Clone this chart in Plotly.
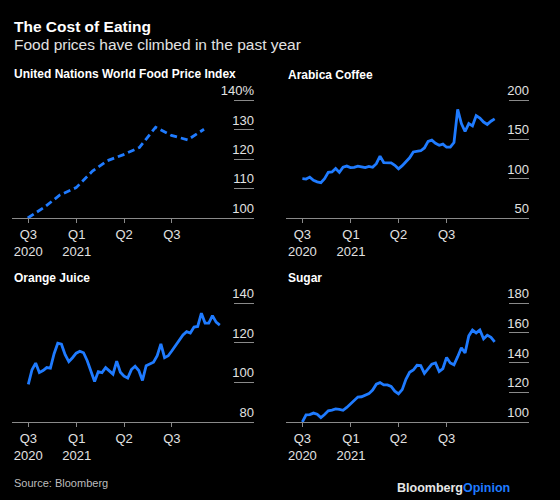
import pandas as pd
import plotly.graph_objects as go

# ---------------- data ----------------
fao_dates = ["2020-09-30", "2020-10-31", "2020-11-30", "2020-12-31", "2021-01-31", "2021-02-28",
             "2021-03-31", "2021-04-30", "2021-05-31", "2021-06-30", "2021-07-31", "2021-08-31"]
fao_values = [100, 103.6, 107.8, 110.3, 115.9, 119.4, 121.5, 123.9, 130.8, 128.0, 126.5, 130.1]

coffee_values = [100, 99.5, 102, 98, 96, 95, 100, 108, 108.5, 113, 108, 114.7, 116, 114, 114.5,
                 116, 115, 114, 115.5, 114.5, 119, 128.6, 120.5, 120, 120, 117, 112.5, 116.5,
                 121.5, 126.5, 134, 135, 135.5, 139, 147.5, 149, 145, 142.5, 144, 140, 140, 146,
                 188, 170, 160, 170, 167, 180, 177, 172, 169, 173, 176]

oj_values = [99, 106.4, 109.8, 105, 106, 107.5, 107.2, 114.5, 119.8, 119.3, 114, 110.5, 112.5,
             114.8, 115.8, 115, 111, 105.5, 100.5, 105.5, 105, 107.5, 105.8, 104.2, 110.8, 105.2,
             103.2, 102.2, 106.5, 108.2, 106, 101, 108.5, 109.5, 110.2, 113.5, 119.5, 112.5,
             113.5, 116, 118.8, 121.7, 124, 125.7, 125, 128, 128.3, 135, 130, 130, 133.8, 130.5,
             129]

sugar_values = [100, 104.8, 105, 106, 105.2, 103, 105, 107.5, 108, 108.8, 108.5, 107.9, 109.8,
                112, 114.3, 116.8, 117, 117.8, 119.1, 121.5, 125.5, 126.5, 125, 125, 124, 120.8,
                119, 121.8, 128.8, 133.5, 135, 138.2, 138, 132.8, 136, 139, 139.8, 134, 136,
                143.5, 139.8, 138.5, 144, 150, 146.5, 158, 161.9, 160, 162, 156, 158.5, 157, 154]

series_start = "2020-10-01"

panel_titles = ["United Nations World Food Price Index", "Arabica Coffee", "Orange Juice", "Sugar"]

x_tickvals = ["2020-10-01", "2021-01-01", "2021-04-01", "2021-07-01"]
x_ticktext = ["Q3<br>2020", "Q1<br>2021", "Q2", "Q3"]

fao_ticks = [100, 110, 120, 130, 140]
fao_ticktext = ["100", "110", "120", "130", "140%"]
coffee_ticks = [50, 100, 150, 200]
oj_ticks = [80, 100, 120, 140]
sugar_ticks = [100, 120, 140, 160, 180]

# ---------------- style ----------------
BLUE = "#1f7bff"
TEXT = "#e2e2e2"
GRID = "#8a8a8a"
FONT = "Liberation Sans, Arial, sans-serif"

W, H = 560, 500


def px_x(p):
    return p / W


def px_y(p):
    return 1 - p / H


weekly = lambda vals: pd.date_range(series_start, periods=len(vals), freq="7D")

fig = go.Figure()

fig.add_trace(go.Scatter(x=pd.to_datetime(fao_dates), y=fao_values, mode="lines",
                         line=dict(color=BLUE, width=2.8, dash="7px,4px"),
                         xaxis="x", yaxis="y", hoverinfo="skip"))
fig.add_trace(go.Scatter(x=weekly(coffee_values), y=coffee_values, mode="lines",
                         line=dict(color=BLUE, width=2.8), xaxis="x2", yaxis="y2", hoverinfo="skip"))
fig.add_trace(go.Scatter(x=weekly(oj_values), y=oj_values, mode="lines",
                         line=dict(color=BLUE, width=2.8), xaxis="x3", yaxis="y3", hoverinfo="skip"))
fig.add_trace(go.Scatter(x=weekly(sugar_values), y=sugar_values, mode="lines",
                         line=dict(color=BLUE, width=2.8), xaxis="x4", yaxis="y4", hoverinfo="skip"))

xrange = ["2020-08-31", "2021-12-04"]
left_dom = [px_x(12), px_x(254)]
right_dom = [px_x(286), px_x(529)]
top_dom = [px_y(218), px_y(75)]
bot_dom = [px_y(422), px_y(278)]


def xaxis(domain, anchor):
    return dict(domain=domain, anchor=anchor, type="date", range=xrange,
                tickvals=x_tickvals, ticktext=x_ticktext, ticks="outside", ticklen=4,
                tickcolor=GRID, showline=True, linecolor=GRID, linewidth=1,
                showgrid=False, zeroline=False, tickfont=dict(size=13, color=TEXT, family=FONT),
                fixedrange=True)


def yaxis(domain, anchor, rng, tv, tt=None):
    return dict(domain=domain, anchor=anchor, range=rng, side="right",
                tickvals=tv, ticktext=tt if tt else [str(v) for v in tv],
                ticks="inside", ticklen=20, tickcolor=GRID, tickwidth=1,
                ticklabelposition="inside top", ticklabelstandoff=-3,
                showline=False, showgrid=False,
                zeroline=False, tickfont=dict(size=13, color=TEXT, family=FONT),
                fixedrange=True)


fig.update_layout(
    width=W, height=H,
    paper_bgcolor="black", plot_bgcolor="black",
    margin=dict(l=0, r=0, t=0, b=0),
    showlegend=False,
    font=dict(family=FONT, color=TEXT),
    xaxis=xaxis(left_dom, "y"),
    xaxis2=xaxis(right_dom, "y2"),
    xaxis3=xaxis(left_dom, "y3"),
    xaxis4=xaxis(right_dom, "y4"),
    yaxis=yaxis(top_dom, "x", [100, 148.5], fao_ticks, fao_ticktext),
    yaxis2=yaxis(top_dom, "x2", [50, 231.8], coffee_ticks),
    yaxis3=yaxis(bot_dom, "x3", [80, 152.8], oj_ticks),
    yaxis4=yaxis(bot_dom, "x4", [100, 197], sugar_ticks),
)

ann = []
ann.append(dict(text="<b>The Cost of Eating</b>", x=px_x(12), y=px_y(26), xref="paper", yref="paper",
                xanchor="left", yanchor="middle", showarrow=False,
                font=dict(size=15.5, color="white", family=FONT)))
ann.append(dict(text="Food prices have climbed in the past year", x=px_x(12), y=px_y(45),
                xref="paper", yref="paper", xanchor="left", yanchor="middle", showarrow=False,
                font=dict(size=15.5, color=TEXT, family=FONT)))
title_pos = [(12, 74), (286, 75), (12, 278), (286, 278)]
for t, (px, py) in zip(panel_titles, title_pos):
    ann.append(dict(text="<b>" + t + "</b>", x=px_x(px), y=px_y(py), xref="paper", yref="paper",
                    xanchor="left", yanchor="middle", showarrow=False,
                    font=dict(size=12, color="white", family=FONT)))
ann.append(dict(text="Source: Bloomberg", x=px_x(12), y=px_y(483), xref="paper", yref="paper",
                xanchor="left", yanchor="middle", showarrow=False,
                font=dict(size=11, color="#bdbdbd", family=FONT)))
ann.append(dict(text="<b>Bloomberg<span style='color:" + BLUE + "'>Opinion</span></b>",
                x=px_x(512), y=px_y(488), xref="paper", yref="paper",
                xanchor="right", yanchor="middle", showarrow=False,
                font=dict(size=12.5, color="#e6e6e6", family=FONT)))
fig.update_layout(annotations=ann)

fig.write_html("out.html", config={"displayModeBar": False},
               post_script="document.body.style.margin='0';document.body.style.background='black';")
